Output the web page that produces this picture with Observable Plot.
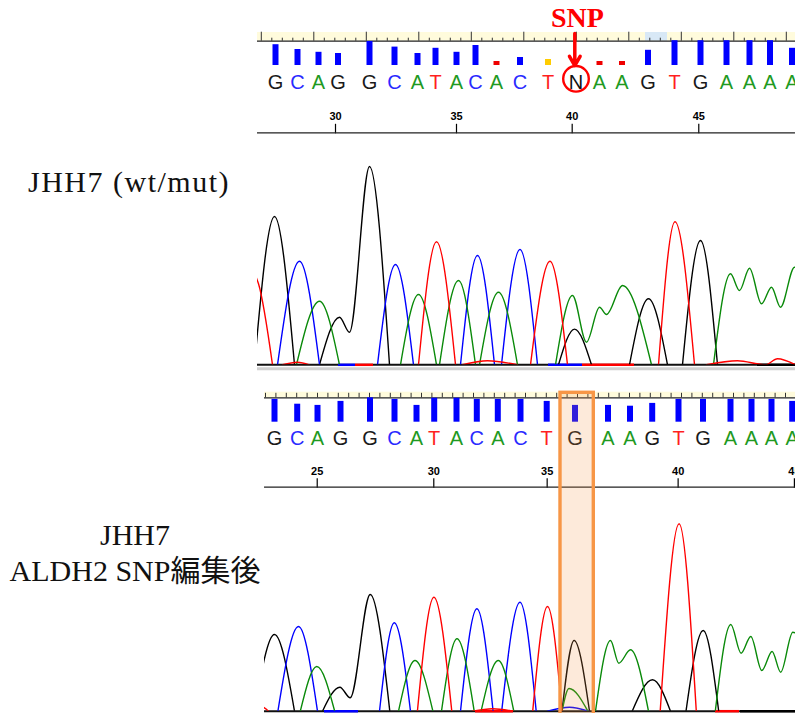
<!DOCTYPE html>
<html><head><meta charset="utf-8">
<script src="https://cdn.jsdelivr.net/npm/d3@7"></script>
<script src="https://cdn.jsdelivr.net/npm/@observablehq/plot@0.6"></script>
<style>
html,body{margin:0;padding:0;background:#fff;}
#root{position:relative;width:795px;height:713px;overflow:hidden;background:#fff;}
.lab{position:absolute;left:0;font-family:"Liberation Serif","Times New Roman","Noto Sans CJK JP",serif;font-size:30px;color:#111;text-align:center;white-space:nowrap;}
</style></head><body><div id="root">
<div class="lab" style="top:166.6px;width:258px;line-height:30px;letter-spacing:1.5px">JHH7 (wt/mut)</div>
<div class="lab" style="top:516.5px;width:270px;line-height:36.7px">JHH7<br>ALDH2 SNP編集後</div>
</div>
<script>
// ---------------- data ----------------
// top (JHH7 wt/mut) base calls
const topFirstPos = 27;
const topCalls = ["G","C","A","G","G","C","A","T","A","C","A","C","T","N","A","A","G","T","G","A","A","A","A"];
const topScan  = [18,40,61,80.5,112,137,160,178,199,218,239,262.5,290.5,318.5,342,364.5,390.5,417,443,469,492,512.5,534.5];
const topQual  = [52,40,33,30,60,46,30,43,33,50,10,20,15,0,10,10,38,62,62,62,62,62,43];
const topAxisPos  = [30,35,40,45];
const topAxisScan = [78,199,314.7,441.3];
const topRulerHighlight = [388,410];
const snpTop = {pos: 40, label: "SNP"};

// bottom (edited) base calls
const botFirstPos = 23;
const botCalls = ["G","C","A","G","G","C","A","T","A","C","A","C","T","G","A","A","G","T","G","A","A","A","A"];
const botScan  = [17,39.7,60,83,112.5,137,159,176.7,199,219.3,240.3,263,289.2,317.5,350.5,372.5,394.7,421,445.5,473,494,514,534.7];
const botQual  = [57,45,42,52,61,57,42,60,60,57,57,57,52,42,42,40,47,57,57,57,57,57,52];
const botAxisPos  = [25,30,35,40,45];
const botAxisScan = [59.7,176.3,289.7,420.7,537];
const highlight = {pos: 36, from: 303, to: 336.3};

// chromatogram peaks: [scan, intensity]
const topPeaks = {
  G: [[[-3,0],[17,1483],[37,0]],
      [[62,0],[82,476],[92,326],[112,1983],[132,0]],
      [[301,0],[317,357],[334,0]],
      [[372,0],[391,660],[410,0]],
      [[425,0],[443,1243],[460,0]]],
  C: [[[20,0],[42,1036],[62,0]],
      [[120,0],[138,1003],[156,0]],
      [[203,0],[220,1093],[237,0]],
      [[244,0],[262.5,1153],[280,0]]],
  A: [[[39,0],[62,636],[82,0]],
      [[143,0],[161,703],[179,0]],
      [[182,0],[201,843],[218,0]],
      [[222,0],[241,726],[260,0]],
      [[298,0],[315,693],[329,226],[342,576],[349,503],[365,793],[394,0]],
      [[456,0],[473,910],[482,743],[492,966],[504,610],[514,776],[523,576],[537,976],[550,820]]],
  T: [[[-14,1050],[1,810],[15,0]],
      [[25,0],[40,25],[52,0]],
      [[161,0],[179,1230],[198,0]],
      [[205,0],[230,40],[260,0]],
      [[273,0],[292.5,1036],[310,0]],
      [[401,0],[417.5,1430],[437,0]],
      [[449,0],[480,40],[508,0],[520,60],[538,0]]]
};
const topNoise = [{ch:"C",from:81,to:98},{ch:"T",from:98,to:116},{ch:"C",from:291,to:325},{ch:"T",from:325,to:377},{ch:"G",from:500,to:538}];

const botPeaks = {
  G: [[[-3,0],[17,767],[37,0]],
      [[65,0],[82.4,240],[92.7,134],[112.7,1167],[132.3,0]],
      [[304.5,0],[316.6,707],[332,0]],
      [[374.7,0],[395,314],[413,0]],
      [[428.5,0],[445.7,807],[461.2,0]]],
  C: [[[20.4,0],[41,847],[60,0]],
      [[122,0],[136.8,884],[153,0]],
      [[203,0],[219.4,1024],[235.6,0]],
      [[244.2,0],[262.5,1090],[278.7,0]],
      [[290,0],[312,40],[331,0]]],
  A: [[[42.8,0],[59.3,447],[77.2,0]],
      [[141,0],[157.5,507],[175.4,0]],
      [[184,0],[199.5,724],[216.7,0]],
      [[223.6,0],[240.8,507],[256.3,0]],
      [[304.5,0],[311.5,227],[330.4,0]],
      [[338,0],[353,707],[361.3,480],[373,614],[391,0]],
      [[457.8,0],[473.3,867],[483.6,580],[493.3,747],[504.3,407],[514.6,597],[523.2,390],[535.3,790],[548,700]]],
  T: [[[0,0],[5,40],[11,0]],
      [[159.9,0],[176.4,1140],[194.3,0]],
      [[215,0],[235,25],[256,0]],
      [[275.2,0],[290,1047],[304.5,0]],
      [[402.7,0],[421.6,1874],[438.8,0]]]
};
const botNoise = [{ch:"C",from:67,to:101},{ch:"T",from:218,to:256},{ch:"T",from:458,to:482},{ch:"G",from:483,to:538}];

// ---------------- styles ----------------
const W = 795;
const traceColor = {G:"#000000", C:"#0000ff", A:"#0a8a0a", T:"#ff0000"};
const callColor  = {G:"#1a1a1a", C:"#2a2aff", A:"#1f9a1f", T:"#ff1f1f", N:"#111111"};
const barColor = q => q <= 10 ? "#ee0000" : q <= 15 ? "#ffcc00" : "#0000ff";
const LETTER_FONT = "'Liberation Sans Narrow','Liberation Sans',Arial,sans-serif";
const PX = 0.4;
const root = document.getElementById("root");

function place(svg, top) {
  svg.style.position = "absolute";
  svg.style.left = "0px";
  svg.style.top = top + "px";
  svg.style.background = "transparent";
  svg.style.overflow = "visible";
  svg.style.maxWidth = "none";
  root.appendChild(svg);
}

const mkBases = (calls, scan, qual, first) => calls.map((c, i) => ({call: c, pos: first + i, scan: scan[i], q: qual[i]}));

function basePanel(cfg) {
  const {bases, top, height, left, x0, barBottom, lineY, bandH, letterBaseline, ticks, under = () => [], over = () => []} = cfg;
  const qOf = p => (barBottom - p) / PX;
  const svg = Plot.plot({
    width: W, height, marginLeft: left, marginRight: 0, marginTop: 0, marginBottom: height - barBottom,
    x: {domain: [x0, 538], axis: null},
    y: {domain: [0, barBottom / PX], axis: null},
    color: {type: "identity"},
    marks: [
      Plot.rect([0], {x1: x0, x2: 538, y1: qOf(lineY), y2: qOf(lineY - bandH), fill: "#fffbdc"}),
      ...under(qOf),
      Plot.ruleX(ticks, {x: "s", y1: qOf(lineY), y2: d => qOf(lineY - d.len), stroke: "#333", strokeWidth: 1}),
      Plot.ruleY([qOf(lineY)], {stroke: "#222", strokeWidth: 1.3}),
      Plot.ruleX(bases, {x: "scan", y1: 0, y2: "q", stroke: d => barColor(d.q), strokeWidth: 6}),
      Plot.text(bases, {x: "scan", y: 0, text: "call", fill: d => callColor[d.call], dy: letterBaseline - barBottom,
        lineAnchor: "bottom", fontSize: 20, fontFamily: LETTER_FONT}),
      ...over(qOf)
    ]
  });
  place(svg, top);
}

function axisStrip({top, lineRel, left, x0, scans, labels}) {
  const lab = new Map(scans.map((s, i) => [s, String(labels[i])]));
  const svg = Plot.plot({
    width: W, height: lineRel + 3, marginLeft: left, marginRight: 0, marginTop: lineRel, marginBottom: 3,
    x: {domain: [x0, 538]},
    y: {domain: [0, 1], axis: null},
    marks: [
      Plot.axisX(scans, {anchor: "top", tickSize: 9.5, tickPadding: 3, tickFormat: s => lab.get(s), label: null,
        fontSize: 11, fontWeight: "bold", fontFamily: "'Liberation Sans',Arial,sans-serif", strokeWidth: 1.2}),
      Plot.ruleY([1], {stroke: "#222", strokeWidth: 1.3})
    ]
  });
  place(svg, top);
}

function tracePlot({peaks, noise, top, height, baseRel, left, x0}) {
  const rows = [];
  for (const [ch, list] of Object.entries(peaks))
    list.forEach((pk, i) => pk.forEach(([s, v]) => rows.push({ch, id: ch + i, s, v})));
  const svg = Plot.plot({
    width: W, height, marginLeft: left, marginRight: 0, marginTop: baseRel - 200, marginBottom: height - baseRel,
    x: {domain: [x0, 538], axis: null},
    y: {domain: [0, 2000], axis: null},
    color: {type: "identity"},
    marks: [
      Plot.ruleY([0], {dy: 4, stroke: "#d0d0d0", strokeWidth: 3}),
      Plot.ruleY([0], {stroke: "#111", strokeWidth: 2}),
      Plot.ruleY(noise, {y: 0, x1: "from", x2: "to", stroke: d => traceColor[d.ch], strokeWidth: 2.5}),
      Plot.line(rows, {x: "s", y: "v", z: "id", stroke: d => traceColor[d.ch], strokeWidth: 1.4, curve: "monotone-x", clip: true})
    ]
  });
  place(svg, top);
}

// ---------------- top sample ----------------
const topBases = mkBases(topCalls, topScan, topQual, topFirstPos);
const snpBase = topBases.find(d => d.pos === snpTop.pos);
basePanel({
  bases: topBases, top: 0, height: 100, left: 257, x0: 0,
  barBottom: 65, lineY: 40.7, bandH: 8.7, letterBaseline: 88,
  ticks: d3.range(0, 52).map(k => ({s: 3.8 + 10.5 * k, len: k % 5 === 0 ? 9 : 3})).filter(d => d.s <= 538),
  under: qOf => [Plot.rect([topRulerHighlight], {x1: d => d[0], x2: d => d[1], y1: qOf(40.7), y2: qOf(32), fill: "#d8e8f6"})],
  over: qOf => [
    Plot.text([snpBase], {x: "scan", y: 0, text: () => snpTop.label, dx: 1.5, dy: 26.7 - 65, lineAnchor: "bottom",
      fontSize: 28, fontWeight: "bold", fontFamily: "'Liberation Serif','Times New Roman',serif", fill: "#ff0000"}),
    Plot.arrow([snpBase], {x1: "scan", x2: "scan", y1: qOf(33), y2: qOf(65), dx: -1.2, stroke: "#ff0000",
      strokeWidth: 3.5, headLength: 12}),
    Plot.dot([snpBase], {x: "scan", y: 0, dy: 13.3, r: 12.8, stroke: "#ff0000", strokeWidth: 2.4, fill: "none"})
  ]
});
axisStrip({top: 92, lineRel: 40.3, left: 257, x0: 0, scans: topAxisScan, labels: topAxisPos});
tracePlot({peaks: topPeaks, noise: topNoise, top: 140, height: 235, baseRel: 224.3, left: 257, x0: 0});

// ---------------- bottom sample ----------------
const botBases = mkBases(botCalls, botScan, botQual, botFirstPos);
basePanel({
  bases: botBases, top: 380, height: 70, left: 264, x0: 7,
  barBottom: 41.7, lineY: 17.3, bandH: 5.6, letterBaseline: 64.5,
  ticks: d3.range(0, 52).map(k => ({s: 8 + 10.4 * k, len: 4.5})).filter(d => d.s <= 538)
});
axisStrip({top: 440, lineRel: 46.7, left: 264, x0: 7, scans: botAxisScan, labels: botAxisPos});
tracePlot({peaks: botPeaks, noise: botNoise, top: 490, height: 223, baseRel: 220.7, left: 264, x0: 7});

// highlight box around the edited base
const hl = Plot.plot({
  width: W, height: 340, marginLeft: 264, marginRight: 0, marginTop: 2.3, marginBottom: 0,
  x: {domain: [7, 538], axis: null}, y: {domain: [0, 1], axis: null},
  marks: [Plot.rect([highlight], {x1: "from", x2: "to", y1: 0, y2: 1, fill: "#f79646", fillOpacity: 0.2,
    stroke: "#f79646", strokeWidth: 3.4})]
});
place(hl, 390);
</script></body></html>
